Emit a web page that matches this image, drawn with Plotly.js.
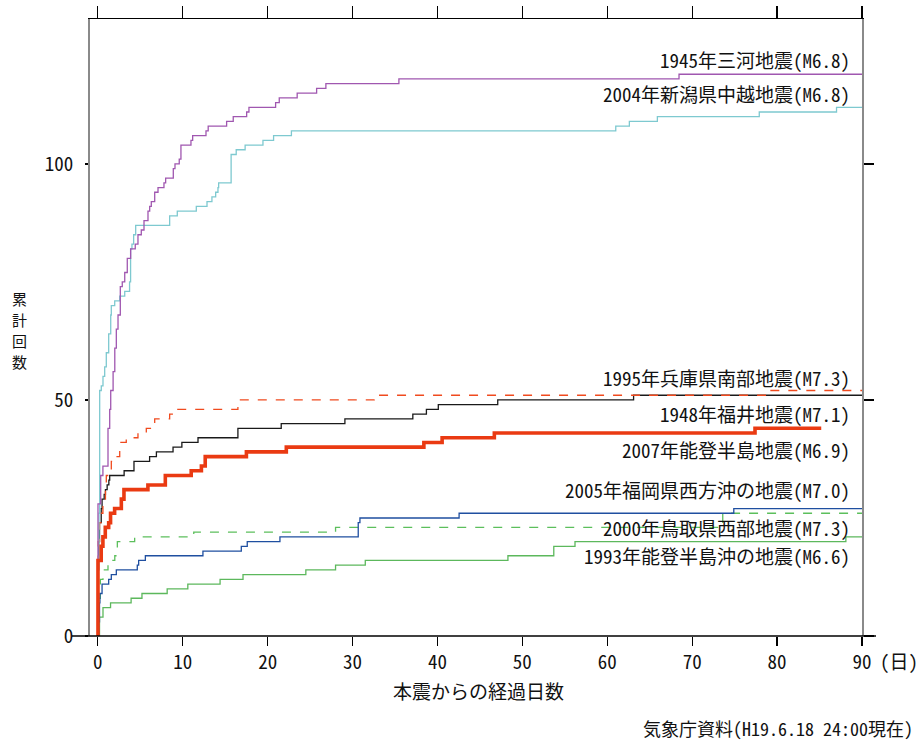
<!DOCTYPE html>
<html>
<head>
<meta charset="utf-8">
<script src="https://cdn.plot.ly/plotly-3.0.1.min.js"></script>
<style>
  html, body { margin: 0; padding: 0; background: #fff; }
  #chart { width: 917px; height: 742px; }
</style>
</head>
<body>
<div id="chart"></div>
<script>
// ---- data (days after main shock, cumulative count) ----
const labels = [
  "1945年三河地震(M6.8)",
  "2004年新潟県中越地震(M6.8)",
  "1995年兵庫県南部地震(M7.3)",
  "1948年福井地震(M7.1)",
  "2007年能登半島地震(M6.9)",
  "2005年福岡県西方沖の地震(M7.0)",
  "2000年鳥取県西部地震(M7.3)",
  "1993年能登半島沖の地震(M6.6)"
];

const days1945 = [0, 0.02, 0.34, 0.6, 1.2, 1.4, 1.52, 1.8, 2.0, 2.18, 2.38, 2.65, 2.88, 3.17, 3.47, 3.87, 4.41, 4.73, 5.12, 5.44, 5.91, 6.11, 6.3, 6.7, 7.09, 7.79, 7.99, 8.89, 9.09, 9.59, 9.79, 10.97, 11.17, 12.74, 13.0, 15.17, 15.95, 17.53, 17.8, 20.94, 21.37, 23.48, 25.77, 26.86, 35.46, 68.45, 90];
const count1945 = [0, 28, 34, 36, 44, 48, 52, 56, 61, 65, 68, 74, 75, 77, 80, 82, 83, 85, 86, 88, 90, 91, 92, 94, 95, 96, 97, 99, 100, 101, 104, 105, 106, 107, 108, 109, 110, 111, 112, 113, 114, 115, 116, 117, 118, 119, 119];

const days2004 = [0, 0.05, 0.14, 0.22, 0.41, 0.61, 0.81, 1.0, 1.28, 1.52, 1.59, 1.99, 2.58, 3.17, 3.74, 3.86, 4.02, 4.22, 4.46, 8.46, 9.36, 11.6, 12.86, 13.44, 13.88, 14.15, 14.23, 15.7, 16.3, 17.35, 19.45, 20.7, 22.8, 61.0, 62.6, 65.9, 77.9, 87.0, 90];
const count2004 = [0, 16, 26, 52, 53, 55, 57, 60, 64, 68, 70, 71, 72, 73, 75, 82, 83, 85, 87, 89, 90, 91, 92, 93, 94, 95, 96, 102, 103, 104, 105, 106, 107, 108, 109, 110, 111, 112, 112];

const days1995 = [0, 0.05, 0.2, 0.4, 0.6, 0.9, 1.0, 1.59, 1.79, 2.58, 3.35, 4.73, 5.71, 6.7, 8.46, 9.05, 16.5, 32.55, 79.1, 90];
const count1995 = [0, 20, 24, 26, 29, 31, 34, 37, 38, 41, 42, 43, 44, 46, 47, 48, 50, 51, 52, 52];

const days1948 = [0, 0.05, 0.1, 0.2, 0.4, 0.5, 0.75, 0.9, 1.1, 1.3, 1.4, 3.1, 4.26, 6.1, 6.9, 8.86, 9.9, 11.8, 16.5, 21.6, 29.1, 37.1, 38.7, 40.1, 47.1, 63.1, 90];
const count1948 = [0, 14, 20, 24, 27, 29, 30, 31, 32, 33, 34, 35, 37, 38, 39, 40, 41, 42, 44, 45, 46, 47, 48, 49, 50, 51, 51];

const days2007 = [0, 0.02, 0.4, 0.6, 0.88, 1.28, 1.5, 1.98, 2.77, 3.08, 5.9, 7.95, 11.0, 12.2, 12.65, 17.5, 22.2, 38.4, 40.55, 46.7, 77.4, 85.2];
const count2007 = [0, 16, 19, 21, 23, 24, 26, 27, 29, 31, 32, 34, 35, 36, 38, 39, 40, 41, 42, 43, 44, 44];

const days2005 = [0, 0.1, 0.2, 0.25, 0.5, 1.28, 1.59, 2.18, 4.65, 4.81, 5.6, 12.38, 16.9, 17.6, 21.45, 30.67, 30.87, 42.55, 74.9, 90];
const count2005 = [0, 3, 7, 9, 11, 12, 13, 14, 15, 16, 17, 18, 19, 20, 21, 24, 25, 26, 27, 27];

const days2000 = [0, 0.1, 0.3, 0.61, 1.2, 2.0, 2.3, 4.34, 11.3, 28.0, 73.6, 90];
const count2000 = [0, 8, 12, 14, 16, 17, 20, 21, 22, 23, 26, 26];

const days1993 = [0, 0.2, 0.61, 1.5, 3.92, 5.2, 8.17, 10.6, 14.4, 17.1, 24.5, 28.0, 31.5, 48.3, 53.7, 56.2, 88.1, 90];
const count1993 = [0, 4, 6, 7, 8, 9, 10, 11, 12, 13, 14, 15, 16, 17, 19, 20, 21, 21];

const xTicks = [0, 10, 20, 30, 40, 50, 60, 70, 80, 90];
const yTicks = [0, 50, 100];

const xTitle = "本震からの経過日数";
const yTitleChars = ["累", "計", "回", "数"];
const unitLabel = "(日)";
const sourceNote = "気象庁資料(H19.6.18 24:00現在)";

// ---- styles ----
const JP = '"Noto Sans Mono CJK JP", "Noto Sans CJK JP", sans-serif';

function step(x, y, color, width, dash) {
  return {
    x: x, y: y, type: 'scatter', mode: 'lines',
    line: { shape: 'hv', color: color, width: width, dash: dash || 'solid' },
    hoverinfo: 'skip', showlegend: false
  };
}

const traces = [
  step(days1993, count1993, '#5cb85c', 1.3),
  step(days2000, count2000, '#5cbf5c', 1.3, 'dash'),
  step(days2005, count2005, '#1f4fa0', 1.3),
  step(days1948, count1948, '#1a1a1a', 1.3),
  step(days1995, count1995, '#f04a1e', 1.3, 'dash'),
  step(days2004, count2004, '#7ec9d0', 1.3),
  step(days1945, count1945, '#a057b0', 1.3),
  step(days2007, count2007, '#ea3a12', 3.6),
  { x: [], y: [], xaxis: 'x2', yaxis: 'y2', type: 'scatter', mode: 'lines', showlegend: false, hoverinfo: 'skip' }
];

const L = 90, R = 55, T = 19, B = 106;
const W = 917, H = 742;
const pw = W - L - R, ph = H - T - B;
function px(xp) { return (xp - L) / pw; }
function py(yp) { return (H - B - yp) / ph; }

const labelY = [60, 93, 377, 413, 450, 489, 527, 555];
const annotations = labels.map((t, i) => ({
  text: t, xref: 'paper', yref: 'paper', x: px(851), y: py(labelY[i]),
  xanchor: 'right', yanchor: 'middle', showarrow: false, borderpad: 0,
  font: { family: JP, size: 19, color: '#111' }
}));
annotations.push(
  { text: unitLabel, xref: 'paper', yref: 'paper', x: px(899), y: py(660), xanchor: 'center', yanchor: 'middle',
    showarrow: false, font: { family: JP, size: 19, color: '#111' } },
  { text: xTitle, xref: 'paper', yref: 'paper', x: px(478), y: py(690), xanchor: 'center', yanchor: 'middle',
    showarrow: false, font: { family: JP, size: 19, color: '#111' } },
  { text: sourceNote, xref: 'paper', yref: 'paper', x: px(915), y: py(728), xanchor: 'right', yanchor: 'middle',
    showarrow: false, font: { family: JP, size: 18, color: '#111' } }
);
const yTitleTop = 298, yTitleGap = 21;
yTitleChars.forEach((c, i) => {
  annotations.push({ text: c, xref: 'paper', yref: 'paper', x: px(19), y: py(yTitleTop + i * yTitleGap),
    xanchor: 'center', yanchor: 'middle', showarrow: false, borderpad: 0,
    font: { family: JP, size: 15, color: '#111' } });
});

const tickFont = { family: JP, size: 19, color: '#111' };

const layout = {
  width: W, height: H,
  margin: { l: L, r: R, t: T, b: B, pad: 0 },
  paper_bgcolor: '#fff', plot_bgcolor: '#fff',
  showlegend: false,
  xaxis: {
    range: [-0.92, 90], tickvals: xTicks, ticktext: xTicks.map(String),
    ticks: 'outside', ticklen: 9, tickwidth: 1.2, tickcolor: '#000',
    showline: false, zeroline: false, showgrid: false,
    tickfont: tickFont
  },
  xaxis2: {
    overlaying: 'x', side: 'top', range: [-0.92, 90], tickvals: xTicks,
    ticks: 'outside', ticklen: 12, tickwidth: 1.2, tickcolor: '#000',
    showticklabels: false, showline: true, linecolor: '#000', linewidth: 1.5,
    zeroline: false, showgrid: false
  },
  yaxis: {
    range: [0, 130.7], tickvals: yTicks, ticktext: yTicks.map(String),
    ticks: 'outside', ticklen: 3, tickwidth: 1.2, tickcolor: '#000',
    ticklabelstandoff: 8,
    showline: true, linecolor: '#8a8a8a', linewidth: 2,
    zeroline: false, showgrid: false,
    tickfont: tickFont
  },
  yaxis2: {
    overlaying: 'y', side: 'right', range: [0, 130.7], tickvals: yTicks,
    ticks: 'outside', ticklen: 10, tickwidth: 1.2, tickcolor: '#000',
    showticklabels: false, showline: true, linecolor: '#8a8a8a', linewidth: 2,
    zeroline: false, showgrid: false
  },
  shapes: [
    { type: 'line', xref: 'paper', yref: 'paper', x0: px(72), x1: px(876), y0: 0, y1: 0,
      line: { color: '#000', width: 1.5 }, layer: 'above' }
  ],
  annotations: annotations
};

Plotly.newPlot('chart', traces, layout, { staticPlot: true, displayModeBar: false });
</script>
</body>
</html>
